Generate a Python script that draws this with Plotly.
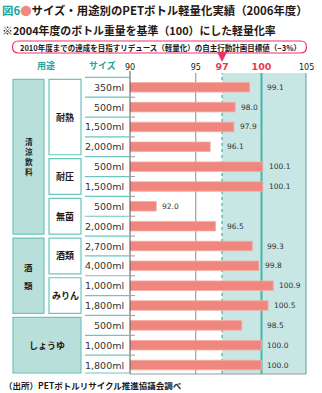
import plotly.graph_objects as go

# ---- data -------------------------------------------------------------
sizes = ["350ml", "500ml", "1,500ml", "2,000ml", "500ml", "1,500ml",
         "500ml", "2,000ml", "2,700ml", "4,000ml", "1,000ml", "1,800ml",
         "500ml", "1,000ml", "1,800ml"]
ratios = [99.1, 98.0, 97.9, 96.1, 100.1, 100.1, 92.0, 96.5,
          99.3, 99.8, 100.9, 100.5, 98.5, 100.0, 100.0]
use_major = ["清涼飲料"] * 8 + ["酒類"] * 4 + ["しょうゆ"] * 3
use_minor = ["耐熱"] * 4 + ["耐圧"] * 2 + ["無菌"] * 2 + ["酒類"] * 2 + ["みりん"] * 2 + [""] * 3
tick_vals = [90, 95, 97, 100]
target_val = 97
base_val = 100
axis_end_label = "105"

# ---- geometry ---------------------------------------------------------
W, H = 322, 393
L, R, T, B = 130, 16, 73, 19
PW, PH = W - L - R, H - T - B
PX_PER_UNIT = 13.15
X_MIN = 90
X_MAX = X_MIN + PW / PX_PER_UNIT
ROW_PX = 19.84
Y_TOP = -0.72
Y_BOT = Y_TOP + PH / ROW_PX

TEAL = "#1fa39a"
TEAL_LINE = "#45b5aa"
TEAL_FILL = "#c8e6e4"
BOX_FILL = "#b9dfdb"
BOX_LINE = "#6cc6bb"
RED = "#e83a4f"
PINK = "#e8336e"
BAR = "#f0877f"
INK = "#231815"
JP = "Noto Sans CJK JP, sans-serif"
NUM = "DejaVu Sans, sans-serif"


def px_x(p):
    return (p - L) / PW


def px_y(p):
    return (H - B - p) / PH


def row_y(r):
    return (Y_BOT - r) / (Y_BOT - Y_TOP)


def runs(labels):
    out, start = [], 0
    for i in range(1, len(labels) + 1):
        if i == len(labels) or labels[i] != labels[start]:
            out.append((labels[start], start, i - 1))
            start = i
    return out


n = len(ratios)
fig = go.Figure()
fig.add_trace(go.Bar(
    y=list(range(n)), x=ratios, orientation="h", width=0.48,
    marker=dict(color=BAR, line=dict(color="#f6aba4", width=0.8)),
    hoverinfo="skip",
))

shapes = []
ann = []

# background panel right of the target, reference lines
shapes.append(dict(type="rect", xref="x", yref="paper", x0=target_val, x1=X_MAX,
                   y0=0, y1=1, fillcolor=TEAL_FILL, line=dict(width=0), layer="below"))
shapes.append(dict(type="line", xref="x", yref="paper", x0=95, x1=95, y0=0, y1=1,
                   line=dict(color="#8c8c8c", width=1), layer="below"))
shapes.append(dict(type="line", xref="x", yref="paper", x0=target_val, x1=target_val,
                   y0=0, y1=1, line=dict(color=TEAL_LINE, width=1.3, dash="3px,3px"),
                   layer="below"))
shapes.append(dict(type="line", xref="x", yref="paper", x0=base_val, x1=base_val,
                   y0=0, y1=1, line=dict(color=TEAL_LINE, width=2), layer="below"))
shapes.append(dict(type="line", xref="paper", yref="paper", x0=1, x1=1, y0=0, y1=1,
                   line=dict(color="#5c9f99", width=1), layer="below"))
shapes.append(dict(type="line", xref="paper", yref="paper", x0=0, x1=1, y0=0, y1=0,
                   line=dict(color="#9a9a9a", width=1), layer="below"))
shapes.append(dict(type="line", xref="paper", yref="paper", x0=0, x1=0, y0=0,
                   y1=px_y(71), line=dict(color="#555555", width=1), layer="above"))

# row separators in the size column and small ticks at the axis
for k in range(n + 1):
    yb = k - 0.5 if k < n else n - 0.6
    shapes.append(dict(type="line", xref="paper", yref="paper", x0=px_x(85), x1=px_x(130),
                       y0=row_y(yb), y1=row_y(yb), line=dict(color=BOX_LINE, width=1.2)))
    if 0 < k < n:
        shapes.append(dict(type="line", xref="paper", yref="paper", x0=0, x1=px_x(135),
                           y0=row_y(yb), y1=row_y(yb), line=dict(color="#9a9a9a", width=1)))

# size labels
for i, s in enumerate(sizes):
    ann.append(dict(xref="paper", yref="y", x=px_x(126), y=i, text=s,
                    xanchor="right", font=dict(family=NUM, size=9.5, color="#333333")))

# value labels: right of the bar, pushed past the 97 / 100 lines if they would cross them
for i, v in enumerate(ratios):
    lx = v + 0.3
    for line_x in (target_val, base_val):
        if lx < line_x < lx + 1.4:
            lx = line_x + 0.25
    ann.append(dict(xref="x", yref="y", x=lx, y=i, text=f"{v:.1f}", xanchor="left",
                    font=dict(family=NUM, size=7.5, color="#333333")))

# category boxes
GAP = 0.1
minor_runs = runs(use_minor)
for name, a, b in runs(use_major):
    has_minor = any(m for m in use_minor[a:b + 1])
    x1 = 44 if has_minor else 81
    y0, y1 = row_y(a - 0.5 + GAP), row_y(b + 0.5 - GAP)
    shapes.append(dict(type="rect", xref="paper", yref="paper", x0=px_x(13), x1=px_x(x1),
                       y0=y1, y1=y0, fillcolor=BOX_FILL, line=dict(color=BOX_LINE, width=1.2)))
    cx = (13 + x1) / 2
    cy_row = (a + b) / 2
    if has_minor and len(name) > 2:
        ann.append(dict(xref="paper", yref="y", x=px_x(cx), y=cy_row,
                        text="<b>" + "<br>".join(name) + "</b>",
                        font=dict(family=JP, size=7.6, color=INK)))
    elif has_minor:
        pitch = 18
        for j, ch in enumerate(name):
            off = (j - (len(name) - 1) / 2) * pitch
            ann.append(dict(xref="paper", yref="y", x=px_x(cx), y=cy_row, yshift=-off,
                            text=f"<b>{ch}</b>", font=dict(family=JP, size=8.5, color=INK)))
    else:
        ann.append(dict(xref="paper", yref="y", x=px_x(cx), y=cy_row, text=f"<b>{name}</b>",
                        font=dict(family=JP, size=9, color=INK)))

for name, a, b in minor_runs:
    if not name:
        continue
    y0, y1 = row_y(a - 0.5 + GAP), row_y(b + 0.5 - GAP)
    shapes.append(dict(type="rect", xref="paper", yref="paper", x0=px_x(49), x1=px_x(81),
                       y0=y1, y1=y0, fillcolor="white", line=dict(color=BOX_LINE, width=1.2)))
    ann.append(dict(xref="paper", yref="y", x=px_x(65), y=(a + b) / 2, text=f"<b>{name}</b>",
                    font=dict(family=JP, size=9, color=INK)))

# column headers
ann.append(dict(xref="paper", yref="paper", x=px_x(46), y=px_y(65.5), text="<b>用途</b>",
                font=dict(family=JP, size=9, color=TEAL)))
ann.append(dict(xref="paper", yref="paper", x=px_x(102.5), y=px_y(65.5), text="<b>サイズ</b>",
                font=dict(family=JP, size=9, color=TEAL)))
ann.append(dict(xref="paper", yref="paper", x=1, y=px_y(67), text=axis_end_label,
                font=dict(family=NUM, size=8, color=INK)))

# titles
ann.append(dict(xref="paper", yref="paper", x=px_x(0), y=px_y(10.5), xanchor="left",
                text=f"<b><span style='color:{TEAL}'>図6</span>"
                     f"<span style='color:#f08a80'>●</span>"
                     "サイズ・用途別のPETボトル軽量化実績（2006年度）</b>",
                font=dict(family=JP, size=11.4, color=INK)))
ann.append(dict(xref="paper", yref="paper", x=px_x(0), y=px_y(30), xanchor="left",
                text="<b>※2004年度のボトル重量を基準（100）にした軽量化率</b>",
                font=dict(family=JP, size=10.9, color=INK)))


# pill-shaped note box
def pill(xa, xb, ya, yb):
    r = (yb - ya) / 2
    P = lambda x, y: f"{px_x(x):.5f},{px_y(y):.5f}"
    return (f"M{P(xa + r, ya)} L{P(xb - r, ya)} Q{P(xb, ya)} {P(xb, ya + r)} "
            f"Q{P(xb, yb)} {P(xb - r, yb)} L{P(xa + r, yb)} Q{P(xa, yb)} {P(xa, yb - r)} "
            f"Q{P(xa, ya)} {P(xa + r, ya)} Z")


shapes.append(dict(type="path", xref="paper", yref="paper", path=pill(12.5, 306.5, 41, 53),
                   line=dict(color=PINK, width=1.2), fillcolor="white"))
ann.append(dict(xref="paper", yref="paper", x=px_x(160), y=px_y(47),
                text="<b>2010年度までの達成を目指すリデュース（軽量化）の自主行動計画目標値（−3%）</b>",
                font=dict(family=JP, size=7.5, color=INK)))

# source
ann.append(dict(xref="paper", yref="paper", x=px_x(2), y=px_y(385), xanchor="left",
                text="<b>（出所）PETボトルリサイクル推進協議会調べ</b>",
                font=dict(family=JP, size=8.5, color=INK)))

for a in ann:
    a.setdefault("showarrow", False)
    a.setdefault("xanchor", "center")
    a.setdefault("yanchor", "middle")

# arrow from the note to the target value
ann.append(dict(xref="x", yref="paper", x=target_val, y=px_y(62), ax=0, ay=-9, text="",
                showarrow=True, arrowhead=2, arrowsize=1, arrowwidth=2, arrowcolor=PINK))

tick_text = []
for v in tick_vals:
    if v in (target_val, base_val):
        tick_text.append(f"<span style='color:{RED};font-size:9.5px'><b>{v}</b></span>")
    else:
        tick_text.append(str(v))

fig.update_layout(
    width=W, height=H, margin=dict(l=L, r=R, t=T, b=B, pad=0),
    paper_bgcolor="white", plot_bgcolor="white", showlegend=False,
    bargap=0.5,
    xaxis=dict(range=[X_MIN, X_MAX], side="top", tickvals=tick_vals, ticktext=tick_text,
               showgrid=False, zeroline=False, showline=False, ticks="",
               ticklabelstandoff=0,
               tickfont=dict(family=NUM, size=8, color=INK), fixedrange=True),
    yaxis=dict(range=[Y_BOT, Y_TOP], visible=False, fixedrange=True),
    shapes=shapes, annotations=ann,
)

fig.write_html("out.html", config={"displayModeBar": False})
